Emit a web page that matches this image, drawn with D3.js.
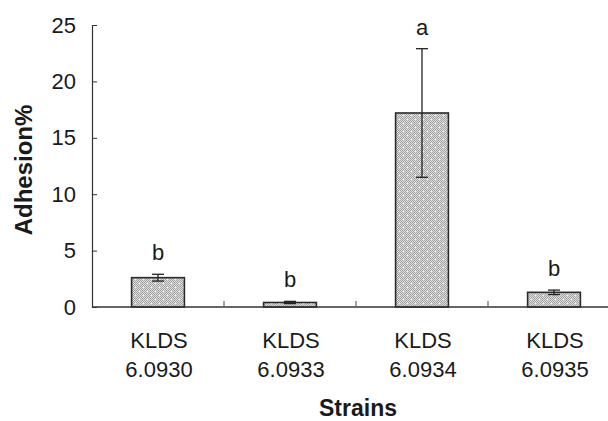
<!DOCTYPE html>
<html>
<head>
<meta charset="utf-8">
<script src="https://cdn.jsdelivr.net/npm/d3@7"></script>
<style>
  body { margin: 0; background: #fff; }
  text { font-family: "Liberation Sans", Arial, sans-serif; fill: #1a1a1a; }
</style>
</head>
<body>
<svg id="chart" width="608" height="421"></svg>
<script>
var strains = ['KLDS 6.0930', 'KLDS 6.0933', 'KLDS 6.0934', 'KLDS 6.0935'];
var adhesion = [2.6, 0.4, 17.2, 1.3];
var errors = [0.3, 0.1, 5.7, 0.2];
var letters = ['b', 'b', 'a', 'b'];
var yTicks = [0, 5, 10, 15, 20, 25];

var margin = { top: 25, left: 92, bottom: 114 },
    height = 421 - margin.top - margin.bottom;

var svg = d3.select('#chart');

// fine checker fill like the original bars
var defs = svg.append('defs');
var pat = defs.append('pattern')
    .attr('id', 'dots')
    .attr('patternUnits', 'userSpaceOnUse')
    .attr('width', 8)
    .attr('height', 8);
pat.append('rect').attr('width', 8).attr('height', 8).attr('fill', '#dcdcdc');
for (var i = 0; i < 8; i++) {
    for (var j = 0; j < 8; j++) {
        if ((i + j) % 2 === 0) {
            pat.append('rect').attr('x', i).attr('y', j).attr('width', 1).attr('height', 1).attr('fill', '#a4a4a4');
        }
    }
}
pat.append('rect').attr('x', 3).attr('y', 3).attr('width', 1).attr('height', 1).attr('fill', '#fff');
pat.append('rect').attr('x', 7).attr('y', 7).attr('width', 1).attr('height', 1).attr('fill', '#f4f4f4');

var x = d3.scaleBand()
    .domain(strains)
    .range([margin.left, 620])
    .paddingInner(0.6)
    .paddingOuter(0.3);

var y = d3.scaleLinear()
    .domain([0, 25])
    .range([margin.top + height, margin.top]);

var g = svg.append('g');

// bars
g.selectAll('rect.bar')
    .data(strains)
    .enter().append('rect')
    .attr('class', 'bar')
    .attr('x', function (d) { return x(d); })
    .attr('width', x.bandwidth())
    .attr('y', function (d, i) { return y(adhesion[i]); })
    .attr('height', function (d, i) { return y(0) - y(adhesion[i]); })
    .attr('fill', 'url(#dots)')
    .attr('stroke', '#2a2a2a')
    .attr('stroke-width', 1.6);

// error bars
var eb = g.selectAll('g.err')
    .data(strains)
    .enter().append('g')
    .attr('class', 'err')
    .attr('stroke', '#222')
    .attr('stroke-width', 1.3);

eb.append('line')
    .attr('x1', function (d) { return x(d) + x.bandwidth() / 2; })
    .attr('x2', function (d) { return x(d) + x.bandwidth() / 2; })
    .attr('y1', function (d, i) { return y(adhesion[i] - errors[i]); })
    .attr('y2', function (d, i) { return y(adhesion[i] + errors[i]); });

[1, -1].forEach(function (s) {
    eb.append('line')
        .attr('x1', function (d) { return x(d) + x.bandwidth() / 2 - 6; })
        .attr('x2', function (d) { return x(d) + x.bandwidth() / 2 + 6; })
        .attr('y1', function (d, i) { return y(adhesion[i] + s * errors[i]); })
        .attr('y2', function (d, i) { return y(adhesion[i] + s * errors[i]); });
});

// significance letters
g.selectAll('text.sig')
    .data(strains)
    .enter().append('text')
    .attr('class', 'sig')
    .attr('x', function (d) { return x(d) + x.bandwidth() / 2; })
    .attr('y', function (d, i) { return y(adhesion[i] + errors[i]) - 14; })
    .attr('text-anchor', 'middle')
    .style('font-size', '22px')
    .text(function (d, i) { return letters[i]; });

// y axis
var yAxis = d3.axisLeft(y)
    .tickValues(yTicks)
    .tickSizeInner(-5)
    .tickSizeOuter(0)
    .tickPadding(16);

var ya = svg.append('g')
    .attr('transform', 'translate(' + margin.left + ',0)')
    .call(yAxis);
ya.select('.domain').attr('stroke', '#333').attr('stroke-width', 1.2);
ya.selectAll('.tick line').attr('stroke', '#333');
ya.selectAll('.tick text')
    .style('font-size', '22px')
    .style('font-family', '"Liberation Sans", Arial, sans-serif')
    .attr('fill', '#1a1a1a');

// x axis line + boundary ticks
svg.append('line')
    .attr('x1', margin.left).attr('x2', 608)
    .attr('y1', y(0)).attr('y2', y(0))
    .attr('stroke', '#333').attr('stroke-width', 1.4);

var step = x.step();
svg.selectAll('line.xtick')
    .data(strains.slice(0, 3))
    .enter().append('line')
    .attr('class', 'xtick')
    .attr('x1', function (d) { return x(d) + x.bandwidth() + (step - x.bandwidth()) / 2; })
    .attr('x2', function (d) { return x(d) + x.bandwidth() + (step - x.bandwidth()) / 2; })
    .attr('y1', y(0))
    .attr('y2', y(0) - 6)
    .attr('stroke', '#666').attr('stroke-width', 1.2);

// two line category labels
var lab = svg.selectAll('text.cat')
    .data(strains)
    .enter().append('text')
    .attr('class', 'cat')
    .attr('text-anchor', 'middle')
    .style('font-size', '22px');
lab.append('tspan')
    .attr('x', function (d) { return x(d) + x.bandwidth() / 2 + 1; })
    .attr('y', 348)
    .text(function (d) { return d.split(' ')[0]; });
lab.append('tspan')
    .attr('x', function (d) { return x(d) + x.bandwidth() / 2 + 1; })
    .attr('y', 377)
    .text(function (d) { return d.split(' ')[1]; });

// axis titles
svg.append('text')
    .attr('x', 358)
    .attr('y', 416)
    .attr('text-anchor', 'middle')
    .style('font-size', '23px')
    .style('font-weight', 'bold')
    .text('Strains');

svg.append('text')
    .attr('transform', 'translate(32,170) rotate(-90)')
    .attr('text-anchor', 'middle')
    .style('font-size', '24px')
    .style('font-weight', 'bold')
    .text('Adhesion%');
</script>
</body>
</html>
